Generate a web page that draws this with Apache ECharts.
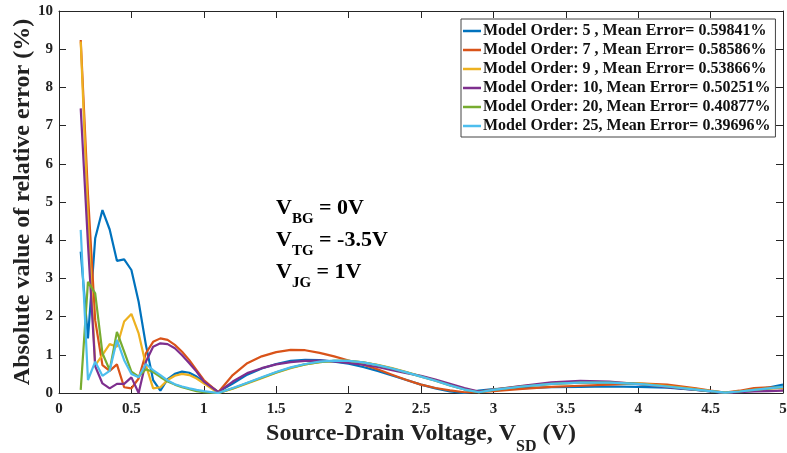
<!DOCTYPE html>
<html>
<head>
<meta charset="utf-8">
<script src="https://cdn.jsdelivr.net/npm/echarts@6/dist/echarts.min.js"></script>
<style>
  html, body { margin: 0; padding: 0; background: #fff; }
  #chart { width: 787px; height: 453px; }
</style>
</head>
<body>
<div id="chart"></div>
<script>
// source-drain voltage samples (V)
const voltage = [0.15, 0.2, 0.25, 0.3, 0.35, 0.4, 0.45, 0.5, 0.55, 0.6, 0.65, 0.7, 0.75, 0.8, 0.85, 0.9, 0.95, 1.0,
  1.1, 1.2, 1.3, 1.4, 1.5, 1.6, 1.7, 1.8, 1.9, 2.0, 2.1, 2.2, 2.3, 2.4, 2.5, 2.6, 2.7, 2.8, 2.9, 3.0,
  3.2, 3.4, 3.6, 3.8, 4.0, 4.2, 4.4, 4.5, 4.6, 4.7, 4.8, 4.9, 5.0]

// absolute relative error (%) for each model order
const order5 = [3.70, 1.43, 4.05, 4.79, 4.28, 3.46, 3.50, 3.22, 2.39, 1.26, 0.34, 0.06, 0.36, 0.50, 0.56, 0.53, 0.43, 0.30,
  0.03, 0.25, 0.48, 0.64, 0.76, 0.84, 0.87, 0.86, 0.82, 0.77, 0.68, 0.58, 0.46, 0.34, 0.22, 0.12, 0.04, 0.00, 0.06, 0.10,
  0.13, 0.15, 0.16, 0.17, 0.16, 0.14, 0.08, 0.04, 0.00, 0.04, 0.08, 0.14, 0.22]
const order7 = [9.24, 5.20, 1.90, 0.73, 0.58, 0.75, 0.15, 0.12, 0.38, 1.04, 1.34, 1.43, 1.39, 1.26, 1.08, 0.86, 0.60, 0.34,
  0.02, 0.47, 0.78, 0.96, 1.07, 1.13, 1.12, 1.05, 0.96, 0.85, 0.74, 0.62, 0.48, 0.34, 0.22, 0.13, 0.07, 0.02, 0.02, 0.05,
  0.11, 0.16, 0.19, 0.22, 0.25, 0.22, 0.12, 0.06, 0.01, 0.06, 0.13, 0.15, 0.12]
const order9 = [9.20, 4.60, 0.72, 1.00, 1.28, 1.21, 1.87, 2.07, 1.56, 0.73, 0.12, 0.15, 0.34, 0.45, 0.50, 0.47, 0.38, 0.25,
  0.00, 0.11, 0.25, 0.39, 0.53, 0.65, 0.75, 0.81, 0.84, 0.84, 0.80, 0.74, 0.65, 0.55, 0.44, 0.33, 0.21, 0.10, 0.03, 0.09,
  0.18, 0.24, 0.27, 0.27, 0.25, 0.18, 0.10, 0.05, 0.01, 0.04, 0.08, 0.11, 0.14]
const order10 = [7.45, 3.90, 0.70, 0.25, 0.12, 0.24, 0.24, 0.41, 0.00, 0.82, 1.21, 1.30, 1.28, 1.17, 0.99, 0.78, 0.56, 0.30,
  0.02, 0.30, 0.52, 0.65, 0.75, 0.81, 0.84, 0.85, 0.83, 0.79, 0.74, 0.68, 0.60, 0.52, 0.45, 0.35, 0.24, 0.13, 0.04, 0.09,
  0.19, 0.28, 0.32, 0.30, 0.23, 0.15, 0.08, 0.04, 0.00, 0.02, 0.04, 0.05, 0.06]
const order20 = [0.08, 2.91, 2.61, 1.04, 0.60, 1.60, 1.08, 0.56, 0.43, 0.62, 0.55, 0.42, 0.30, 0.22, 0.15, 0.10, 0.05, 0.02,
  0.00, 0.12, 0.26, 0.40, 0.54, 0.66, 0.75, 0.81, 0.84, 0.84, 0.80, 0.73, 0.64, 0.54, 0.43, 0.32, 0.20, 0.09, 0.02, 0.08,
  0.17, 0.24, 0.27, 0.27, 0.24, 0.17, 0.09, 0.05, 0.01, 0.04, 0.08, 0.12, 0.16]
const order25 = [4.27, 0.34, 0.82, 0.45, 0.58, 1.39, 0.86, 0.50, 0.41, 0.76, 0.60, 0.47, 0.33, 0.23, 0.17, 0.12, 0.08, 0.05,
  0.00, 0.13, 0.27, 0.41, 0.55, 0.67, 0.76, 0.82, 0.85, 0.84, 0.80, 0.73, 0.64, 0.54, 0.43, 0.32, 0.20, 0.09, 0.02, 0.08,
  0.17, 0.24, 0.27, 0.27, 0.24, 0.17, 0.09, 0.05, 0.01, 0.04, 0.08, 0.12, 0.16]

const seriesNames = [
  'Model Order: 5 , Mean Error= 0.59841%',
  'Model Order: 7 , Mean Error= 0.58586%',
  'Model Order: 9 , Mean Error= 0.53866%',
  'Model Order: 10, Mean Error= 0.50251%',
  'Model Order: 20, Mean Error= 0.40877%',
  'Model Order: 25, Mean Error= 0.39696%'
]
const seriesValues = [order5, order7, order9, order10, order20, order25]
const colors = ['#0072BD', '#D95319', '#EDB120', '#7E2F8E', '#77AC30', '#4DBEEE']

const FONT = '"Liberation Serif", "Times New Roman", serif'
const axisColor = '#262626'

const chart = echarts.init(document.getElementById('chart'))

// main text + subscript
function subRich(size, subSize, drop) {
  return {
    m: { fontFamily: FONT, fontWeight: 'bold', fontSize: size, lineHeight: size + 2, color: '#222', verticalAlign: 'top' },
    s: { fontFamily: FONT, fontWeight: 'bold', fontSize: subSize, lineHeight: subSize + 1, color: '#222', verticalAlign: 'top', padding: [drop, 0, 0, 0] }
  }
}

function annot(y, sub, rest) {
  return {
    type: 'text',
    left: 276,
    top: y,
    style: { text: '{m|V}{s|' + sub + '}{m|' + rest + '}', rich: subRich(22, 15, 15) }
  }
}

const frameAxis = {
  axisLine: { onZero: false, lineStyle: { color: axisColor, width: 1 } },
  axisTick: { inside: true, length: 7, lineStyle: { color: axisColor } },
  axisLabel: { show: false },
  splitLine: { show: false }
}

let option = {
  animation: false,
  color: colors,
  grid: { left: 59, right: 4, top: 11, bottom: 60, outerBoundsMode: 'none', containLabel: false },
  legend: {
    orient: 'vertical',
    left: 461,
    top: 19,
    padding: [4, 5, 3, 2],
    itemGap: 3,
    itemWidth: 18,
    itemHeight: 2.5,
    icon: 'rect',
    backgroundColor: '#fff',
    borderColor: '#444',
    borderWidth: 1,
    borderRadius: 0,
    textStyle: { fontFamily: FONT, fontWeight: 'bold', fontSize: 16, color: '#111', padding: [0, 0, 0, -3] }
  },
  xAxis: [
    {
      type: 'value', min: 0, max: 5, interval: 0.5,
      name: '{m|Source-Drain Voltage, V}{s|SD}{m| (V)}',
      nameLocation: 'middle', nameGap: 29,
      nameTextStyle: { rich: subRich(24, 16, 17) },
      axisLine: { onZero: false, lineStyle: { color: axisColor, width: 1 } },
      axisTick: { inside: true, length: 7, lineStyle: { color: axisColor } },
      axisLabel: { fontFamily: FONT, fontWeight: 'bold', fontSize: 15, color: '#222', margin: 9 },
      splitLine: { show: false }
    },
    Object.assign({ type: 'value', min: 0, max: 5, interval: 0.5, position: 'top' }, frameAxis)
  ],
  yAxis: [
    {
      type: 'value', min: 0, max: 10, interval: 1,
      name: 'Absolute value of relative error (%)',
      nameLocation: 'middle', nameGap: 24, nameMoveOverlap: false,
      nameTextStyle: { fontFamily: FONT, fontWeight: 'bold', fontSize: 24, color: '#222' },
      axisLine: { show: true, onZero: false, lineStyle: { color: axisColor, width: 1 } },
      axisTick: { show: true, inside: true, length: 7, lineStyle: { color: axisColor } },
      axisLabel: { fontFamily: FONT, fontWeight: 'bold', fontSize: 15, color: '#222', margin: 6 },
      splitLine: { show: false }
    },
    Object.assign({ type: 'value', min: 0, max: 10, interval: 1, position: 'right' }, frameAxis,
      { axisLine: { show: true, onZero: false, lineStyle: { color: axisColor, width: 1 } },
        axisTick: { show: true, inside: true, length: 7, lineStyle: { color: axisColor } } })
  ],
  series: seriesNames.map((name, i) => ({
    name: name,
    type: 'line',
    symbol: 'none',
    lineStyle: { width: 2.2, color: colors[i] },
    itemStyle: { color: colors[i] },
    data: voltage.map((v, k) => [v, seriesValues[i][k]])
  })),
  graphic: [
    annot(197, 'BG', ' = 0V'),
    annot(229, 'TG', ' = -3.5V'),
    annot(261, 'JG', ' = 1V')
  ]
}

option && chart.setOption(option)
</script>
</body>
</html>
